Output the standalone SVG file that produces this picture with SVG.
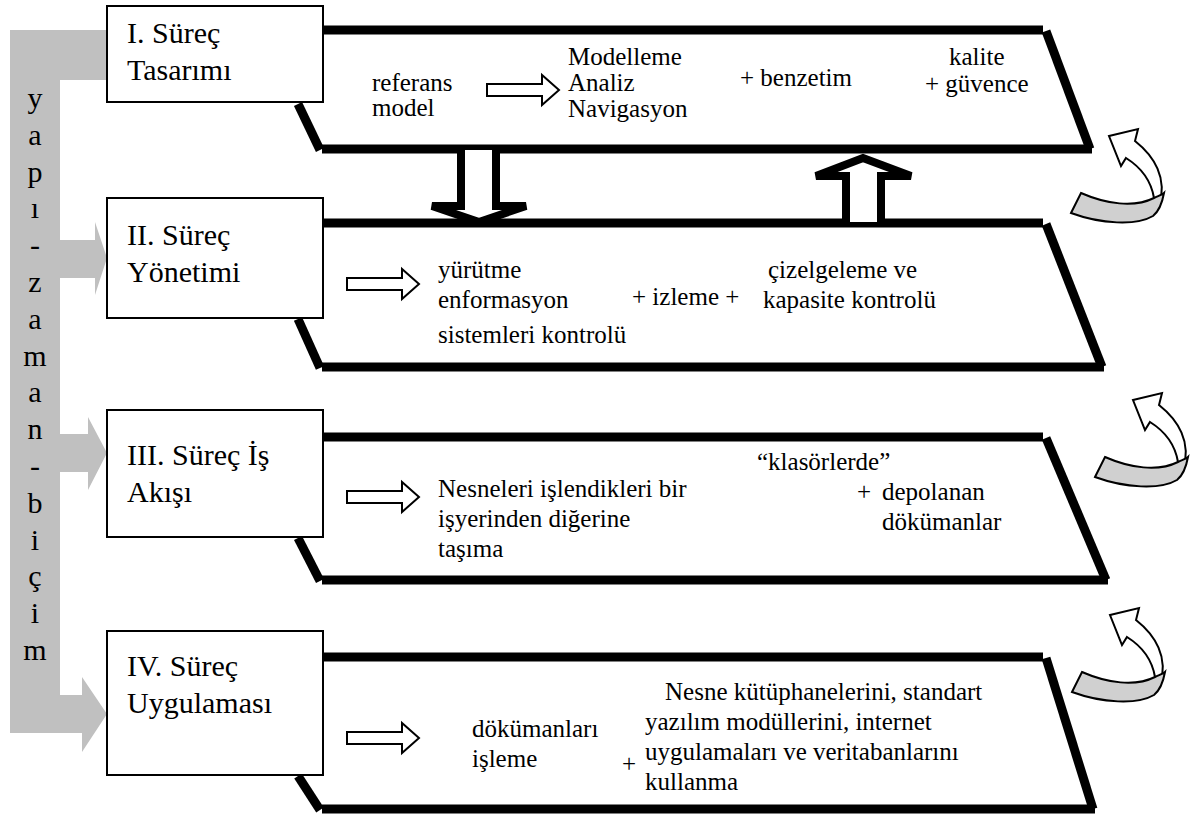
<svg xmlns="http://www.w3.org/2000/svg" xmlns:xlink="http://www.w3.org/1999/xlink" width="1192" height="829" viewBox="0 0 1192 829">
  <style>
    text { font-family: "Liberation Serif", "Times New Roman", serif; fill: #000; }
    .lbl { font-size: 30px; }
    .vt { font-size: 30px; text-anchor: middle; }
    .tx { font-size: 25px; }
    .box { fill: #fff; stroke: #000; stroke-width: 2; }
    .frame { stroke: #000; stroke-width: 9; fill: none; stroke-linecap: butt; }
    .band { fill: #c0c0c0; }
    .blk { fill: #fff; stroke: #000; stroke-width: 2; stroke-linejoin: miter; }
    .big { fill: #fff; stroke: #000; stroke-width: 8; stroke-linejoin: miter; }
    .twist { fill: #d0d0d0; stroke: #000; stroke-width: 2; }
    .curl { fill: #fff; stroke: #000; stroke-width: 2; stroke-linejoin: miter; }
  </style>
  <defs>
    <path id="blockArrow" class="blk" d="M0,-6 H55 V-15 L72,0 L55,15 V6 H0 Z"/>
    <g id="curlArrow">
      <path class="curl" d="M53,20 L82,13 L79,25 C98,40 112,62 103,90 L98,82 C95,64 86,52 70,42 L65,50 Z"/>
      <path class="twist" d="M25,77 C50,88 78,92 98,82 C102,80 106,79 108,77 C106,88 102,96 97,100 C80,110 45,108 15,97 Z"/>
    </g>
  </defs>

  <!-- grey time/structure band feeding the four stages -->
  <g id="spine">
    <path class="band" d="M10,30 H107 V80 H60 V240 H95 V222 L107,258 L95,295 V278 H60 V434 H88 V417 L107,453 L88,490 V472 H60 V695 H82 V677 L107,714 L82,752 V733 H10 Z"/>
    <text class="vt" x="35" y="108">y</text>
    <text class="vt" x="35" y="145">a</text>
    <text class="vt" x="35" y="182">p</text>
    <text class="vt" x="35" y="218">ı</text>
    <text class="vt" x="35" y="255">-</text>
    <text class="vt" x="35" y="292">z</text>
    <text class="vt" x="35" y="329">a</text>
    <text class="vt" x="35" y="366">m</text>
    <text class="vt" x="35" y="402">a</text>
    <text class="vt" x="35" y="439">n</text>
    <text class="vt" x="35" y="476">-</text>
    <text class="vt" x="35" y="513">b</text>
    <text class="vt" x="35" y="550">i</text>
    <text class="vt" x="35" y="586">ç</text>
    <text class="vt" x="35" y="623">i</text>
    <text class="vt" x="35" y="660">m</text>
  </g>

  <!-- stage frames -->
  <g id="frame1">
    <line class="frame" x1="323" y1="30" x2="1043" y2="30"/>
    <line class="frame" x1="1046" y1="31" x2="1090" y2="149"/>
    <line class="frame" x1="322" y1="149" x2="1092" y2="149"/>
    <line class="frame" x1="298" y1="104" x2="320" y2="150"/>
  </g>
  <g id="frame2">
    <line class="frame" x1="323" y1="223" x2="1043" y2="223"/>
    <line class="frame" x1="1046" y1="224" x2="1102" y2="367"/>
    <line class="frame" x1="322" y1="367" x2="1104" y2="367"/>
    <line class="frame" x1="298" y1="319" x2="320" y2="368"/>
  </g>
  <g id="frame3">
    <line class="frame" x1="323" y1="437" x2="1043" y2="437"/>
    <line class="frame" x1="1046" y1="438" x2="1106" y2="580"/>
    <line class="frame" x1="322" y1="580" x2="1108" y2="580"/>
    <line class="frame" x1="298" y1="538" x2="320" y2="581"/>
  </g>
  <g id="frame4">
    <line class="frame" x1="323" y1="657" x2="1043" y2="657"/>
    <line class="frame" x1="1046" y1="658" x2="1093" y2="809"/>
    <line class="frame" x1="322" y1="809" x2="1095" y2="809"/>
    <line class="frame" x1="298" y1="776" x2="320" y2="810"/>
  </g>

  <!-- stage title boxes -->
  <g id="stage1">
    <rect class="box" x="107" y="6" width="216" height="96"/>
    <text class="lbl" x="127" y="43">I. Süreç</text>
    <text class="lbl" x="127" y="80">Tasarımı</text>
  </g>
  <g id="stage2">
    <rect class="box" x="107" y="198" width="216" height="120"/>
    <text class="lbl" x="127" y="245">II. Süreç</text>
    <text class="lbl" x="127" y="282">Yönetimi</text>
  </g>
  <g id="stage3">
    <rect class="box" x="107" y="410" width="216" height="127"/>
    <text class="lbl" x="127" y="465">III. Süreç İş</text>
    <text class="lbl" x="127" y="502">Akışı</text>
  </g>
  <g id="stage4">
    <rect class="box" x="107" y="631" width="216" height="144"/>
    <text class="lbl" x="127" y="676">IV. Süreç</text>
    <text class="lbl" x="127" y="713">Uygulaması</text>
  </g>

  <!-- stage contents -->
  <g id="content1">
    <text class="tx" x="372" y="91">referans</text>
    <text class="tx" x="372" y="116">model</text>
    <text class="tx" x="568" y="65">Modelleme</text>
    <text class="tx" x="568" y="91">Analiz</text>
    <text class="tx" x="568" y="117">Navigasyon</text>
    <text class="tx" x="740" y="86">+ benzetim</text>
    <text class="tx" x="949" y="65">kalite</text>
    <text class="tx" x="925" y="92">+  güvence</text>
  </g>
  <g id="content2">
    <text class="tx" x="438" y="278">yürütme</text>
    <text class="tx" x="438" y="308">enformasyon</text>
    <text class="tx" x="438" y="343">sistemleri kontrolü</text>
    <text class="tx" x="632" y="305">+ izleme +</text>
    <text class="tx" x="768" y="278">çizelgeleme ve</text>
    <text class="tx" x="763" y="308">kapasite kontrolü</text>
  </g>
  <g id="content3">
    <text class="tx" x="438" y="497">Nesneleri işlendikleri bir</text>
    <text class="tx" x="438" y="527">işyerinden diğerine</text>
    <text class="tx" x="438" y="557">taşıma</text>
    <text class="tx" x="757" y="470">“klasörlerde”</text>
    <text class="tx" x="857" y="500">+</text>
    <text class="tx" x="882" y="500">depolanan</text>
    <text class="tx" x="882" y="530">dökümanlar</text>
  </g>
  <g id="content4">
    <text class="tx" x="472" y="737">dökümanları</text>
    <text class="tx" x="472" y="767">işleme</text>
    <text class="tx" x="622" y="772">+</text>
    <text class="tx" x="665" y="700">Nesne kütüphanelerini, standart</text>
    <text class="tx" x="645" y="730">yazılım modüllerini, internet</text>
    <text class="tx" x="645" y="760">uygulamaları ve veritabanlarını</text>
    <text class="tx" x="645" y="790">kullanma</text>
  </g>

  <!-- connectors -->
  <g id="connectors">
    <use xlink:href="#blockArrow" transform="translate(487,90)"/>
    <use xlink:href="#blockArrow" transform="translate(347,284)"/>
    <use xlink:href="#blockArrow" transform="translate(347,497)"/>
    <use xlink:href="#blockArrow" transform="translate(347,738)"/>
    <path class="big" d="M461,150 V206 H432 L479,222 L526,206 H496 V150"/>
    <path class="big" d="M846,222 V176 H816 L863,158 L911,176 H881 V222"/>
    <use xlink:href="#curlArrow" transform="translate(1056,116)"/>
    <use xlink:href="#curlArrow" transform="translate(1080,380)"/>
    <use xlink:href="#curlArrow" transform="translate(1057,595)"/>
  </g>
</svg>
